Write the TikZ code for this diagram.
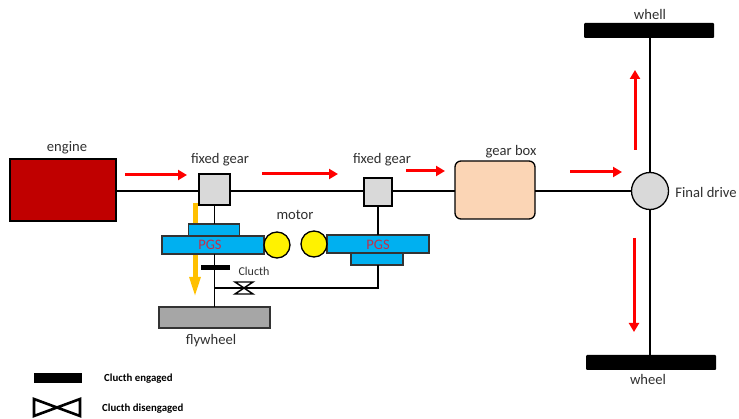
\documentclass[tikz,border=0pt]{standalone}
\usepackage{fontspec}
\setmainfont{Carlito}
\usetikzlibrary{arrows.meta,calc}
\definecolor{engred}{HTML}{C00000}
\definecolor{gearg}{HTML}{D9D9D9}
\definecolor{boxtan}{HTML}{FBD5B5}
\definecolor{pgsblue}{HTML}{00B0F0}
\definecolor{flyg}{HTML}{A6A6A6}
\definecolor{orng}{HTML}{FFC000}
\definecolor{txt}{HTML}{303030}
\definecolor{pgstxt}{HTML}{C0304A}
\tikzset{
  px/.style={x=1pt,y=-1pt},
  blockbox/.style={draw=#1,line width=1.3pt,inner sep=0pt,outer sep=0pt},
  shaft/.style={draw=black,line width=1.5pt},
  flow/.style={draw=red,line width=3pt,-{Triangle[length=9pt,width=10pt]}},
  label/.style={text=txt,font=\fontsize{14.6}{16}\selectfont,inner sep=0pt},
  pgslabel/.style={text=pgstxt,font=\fontsize{14.5}{16}\selectfont,inner sep=0pt},
  legend/.style={text=black,font=\bfseries\fontsize{10.8}{12}\selectfont,inner sep=0pt,anchor=west},
  solidbar/.style={fill=black,draw=none,inner sep=0pt,outer sep=0pt},
  gearbox/.style={blockbox=black,fill=gearg},
  planet/.style={blockbox=black!80,fill=pgsblue},
  ring/.style={circle,draw=black,line width=1.3pt,fill=yellow,minimum size=26pt,inner sep=0pt,outer sep=0pt},
}
\begin{document}
\begin{tikzpicture}[px]
\useasboundingbox (0,0) rectangle (739,419);
\fill[white] (0,0) rectangle (739,419);
% orange arrow lies behind the gear set
\coordinate (a7s) at (195,203); \coordinate (a7e) at (195,298);
\draw[draw=orng,line width=5pt,-{Triangle[length=21pt,width=10pt]}] (a7s) -- (a7e);
% wheels and blocks
\node[solidbar,minimum width=130pt,minimum height=15pt,rounded corners=1pt] (wtop) at (649,30.5) {};
\node[solidbar,minimum width=130pt,minimum height=15pt,rounded corners=1pt] (wbot) at (651,362.5) {};
\node[circle,draw=black,line width=1.3pt,fill=gearg,minimum size=37pt,inner sep=0pt,outer sep=0pt] (fd) at (650,191) {};
\node[blockbox=black,fill=engred,minimum width=106pt,minimum height=62pt] (engine) at (63,190) {};
\node[gearbox,minimum width=31pt,minimum height=31pt] (g1) at (214.5,189.5) {};
\node[gearbox,minimum width=28pt,minimum height=28pt] (g2) at (378,192) {};
\node[blockbox=black,fill=boxtan,rounded corners=6pt,minimum width=80pt,minimum height=58pt] (gb) at (495,190) {};
\node[planet,minimum width=51pt,minimum height=12pt] (capl) at (214,230) {};
\node[planet,minimum width=102pt,minimum height=18pt] (pgsl) at (213,245) {};
\node[planet,minimum width=102pt,minimum height=18pt] (pgsr) at (378,244) {};
\node[planet,minimum width=52pt,minimum height=12pt] (capr) at (377,259) {};
\node[blockbox=black!80,fill=flyg,minimum width=111pt,minimum height=21pt] (fly) at (214.5,317.5) {};
\node[ring] (ml) at (277,245) {};
\node[ring] (mr) at (314,244) {};
% shafts
\coordinate (hy) at (0,191);
\draw[shaft] (engine.east|-hy) -- (g1.west|-hy);
\draw[shaft] (g1.east|-hy) -- (g2.west|-hy);
\draw[shaft] (g2.east|-hy) -- (gb.west|-hy);
\draw[shaft] (gb.east|-hy) -- (fd.west);
\draw[shaft] (fd.north|-wtop.south) -- (fd.north);
\draw[shaft] (fd.south) -- (fd.south|-wbot.north);
\draw[shaft] (g1.south) -- (g1.south|-capl.north);
\draw[shaft] (g2.south) -- (pgsr.north);
\draw[shaft] (g1.south|-pgsl.south) -- (g1.south|-fly.north);
\coordinate (tee) at (214.5,288);
\node[inner sep=0pt,outer sep=0pt,minimum width=18pt,minimum height=12pt] (cl) at (244,288) {};
\draw[shaft] (tee) -- (cl.center) -- (g2.south|-cl.center) -- (g2.south|-capr.south);
% clutch symbol
\draw[draw=black,line width=1.4pt,fill=white] (cl.north west) -- (cl.north east) -- (cl.south west) -- (cl.south east) -- cycle;
\node[solidbar,minimum width=29pt,minimum height=5pt] (eng) at (215.5,267.5) {};
% flow arrows
\coordinate (a1s) at (125,175); \coordinate (a1e) at (187,175);
\coordinate (a2s) at (262,174); \coordinate (a2e) at (338,174);
\coordinate (a3s) at (406,171); \coordinate (a3e) at (445,171);
\coordinate (a4s) at (570,172); \coordinate (a4e) at (622,172);
\coordinate (a5s) at (635,150); \coordinate (a5e) at (635,70);
\coordinate (a6s) at (634,238); \coordinate (a6e) at (634,332);
\foreach \n in {1,...,6}{\draw[flow] (a\n s) -- (a\n e);}
% labels
\node[label] (t1) at (67,148) {engine};
\node[label] (t2) at (220,160) {fixed gear};
\node[label] (t3) at (382,160) {fixed gear};
\node[label] (t4) at (511,152) {gear box};
\node[label] (t5) at (706,192) {Final drive};
\node[label] (t6) at (650,14) {whell};
\node[label] (t7) at (648,379) {wheel};
\node[label] (t8) at (295,215) {motor};
\node[label] (t9) at (211,341) {flywheel};
\node[label,font=\fontsize{12}{14}\selectfont] (t10) at (254,271) {Clucth};
\node[pgslabel] (p1) at (210,245) {PGS};
\node[pgslabel] (p2) at (378,245) {PGS};
% legend
\node[solidbar,minimum width=48pt,minimum height=10pt] (lg1) at (58,378) {};
\node[inner sep=0pt,outer sep=0pt,minimum width=46pt,minimum height=17pt] (lg2) at (57,407.5) {};
\draw[black,line width=2.6pt] (lg2.north west) -- (lg2.south east) -- (lg2.north east) -- (lg2.south west) -- cycle;
\node[legend] (l1) at (104,379) {Clucth engaged};
\node[legend] (l2) at (102,409) {Clucth disengaged};
\end{tikzpicture}
\end{document}
